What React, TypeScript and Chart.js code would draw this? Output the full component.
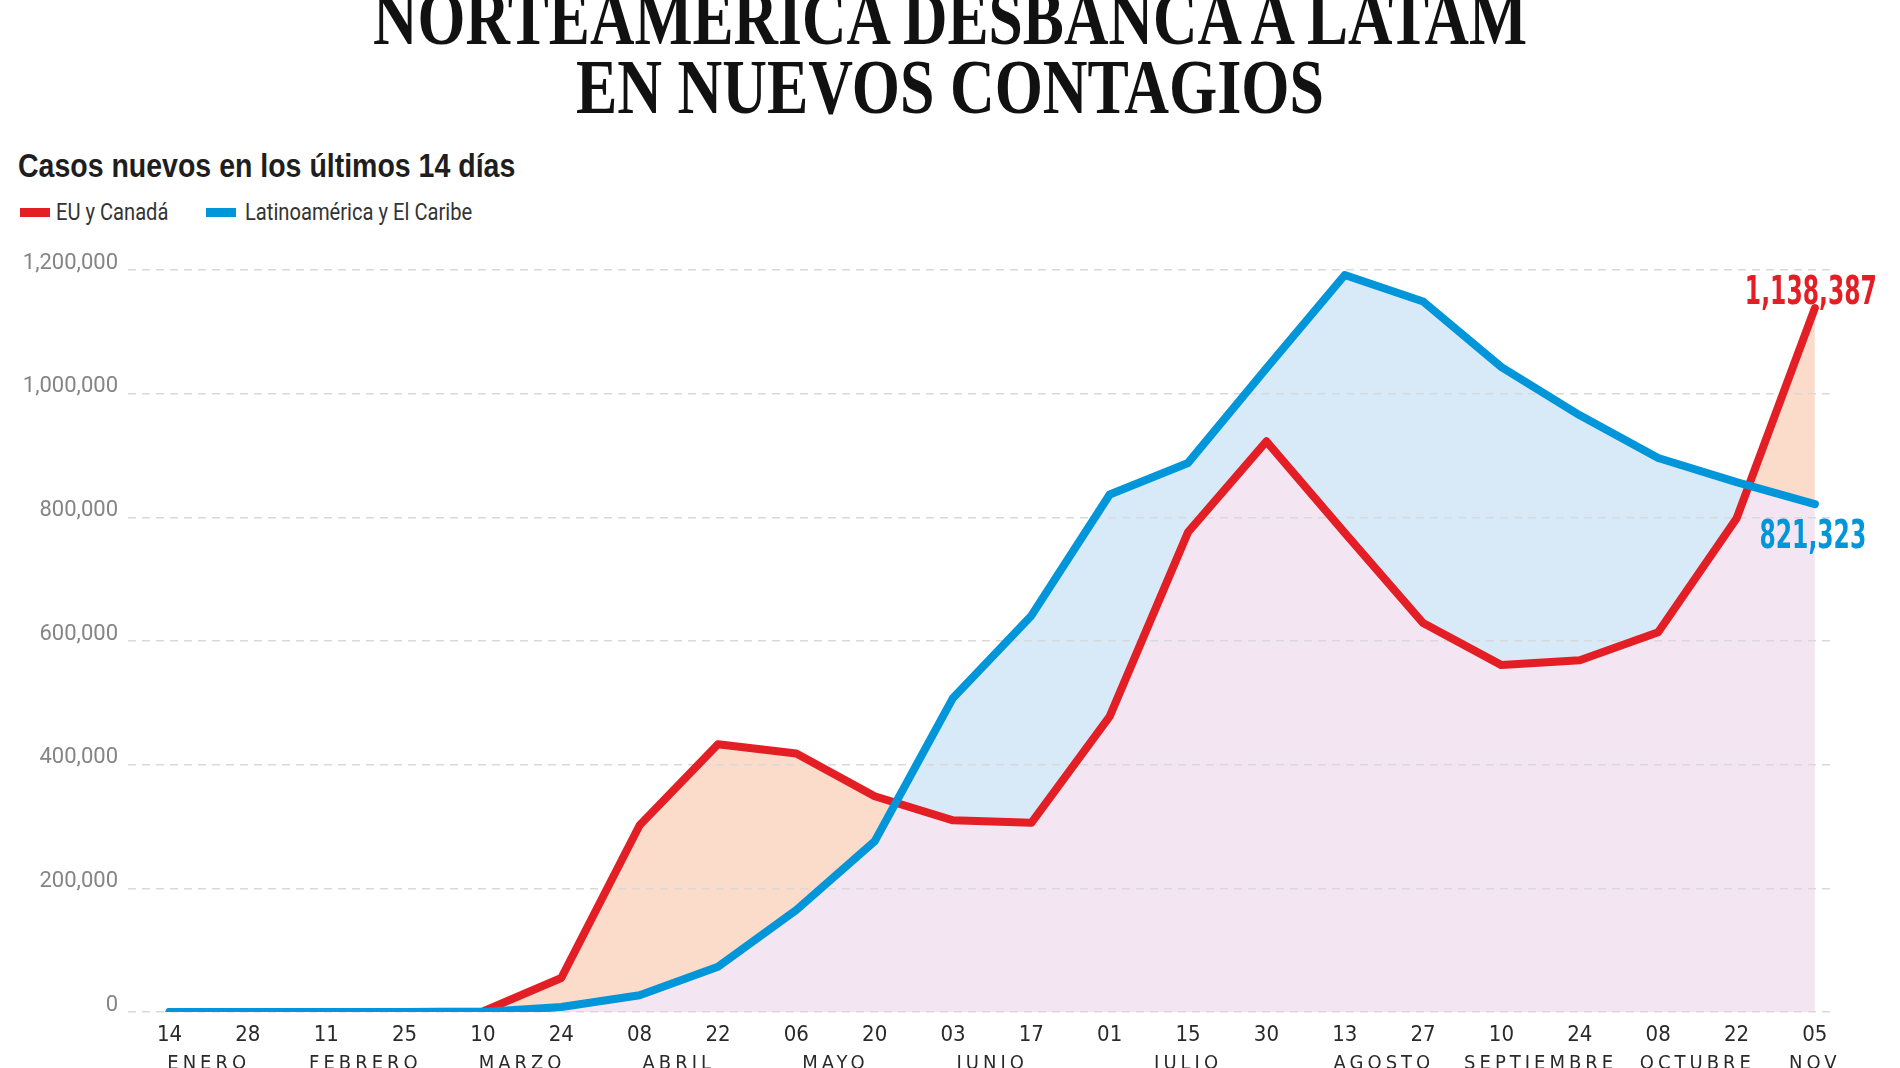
import React, { useEffect, useLayoutEffect, useRef, useState } from 'react';
import { Chart, registerables } from 'chart.js';

Chart.register(...registerables);

// ---------- data ----------
const titleLines = ['NORTEAMÉRICA DESBANCA A LATAM', 'EN NUEVOS CONTAGIOS'];
const subtitle = 'Casos nuevos en los últimos 14 días';
const seriesNames = ['EU y Canadá', 'Latinoamérica y El Caribe'];

const dateLabels = ['14', '28', '11', '25', '10', '24', '08', '22', '06', '20', '03', '17', '01', '15', '30', '13', '27', '10', '24', '08', '22', '05'];
const monthLabels = ['ENERO', 'FEBRERO', 'MARZO', 'ABRIL', 'MAYO', 'JUNIO', 'JULIO', 'AGOSTO', 'SEPTIEMBRE', 'OCTUBRE', 'NOV'];
const monthPositions = [0.5, 2.5, 4.5, 6.5, 8.5, 10.5, 13, 15.5, 17.5, 19.5, 21];

const euCanada = [0, 0, 0, 0, 1000, 55000, 302000, 433000, 418000, 349000, 310000, 306000, 478000, 776000, 923000, 775000, 629000, 561000, 569000, 614000, 798000, 1138387];
const latam = [0, 0, 0, 0, 0, 8000, 27000, 73000, 165000, 276000, 508000, 641000, 837000, 888000, 1041000, 1192000, 1149000, 1043000, 965000, 896000, 857000, 821323];

const yTickValues = [0, 200000, 400000, 600000, 800000, 1000000, 1200000];

// ---------- styles ----------
const RED = '#e31e24';
const BLUE = '#0096d9';
const PEACH = '#fbdccb';
const LIGHTBLUE = '#d8eaf8';
const LAVENDER = '#f3e5f1';
const NARROW = "'Liberation Sans Narrow', 'DejaVu Sans Condensed', 'Roboto Condensed', Roboto, 'Liberation Sans', sans-serif";
const SANS = "Roboto, 'Liberation Sans', sans-serif";

const fmt = (n: number) => n.toLocaleString('en-US');

function FitText({ text, width, origin, style }: { text: string; width: number; origin: string; style?: React.CSSProperties }) {
  const ref = useRef<HTMLSpanElement>(null);
  const [scale, setScale] = useState(1);
  useLayoutEffect(() => {
    const el = ref.current;
    if (!el) return;
    const w = el.offsetWidth;
    if (w > 0) setScale(width / w);
  }, [text, width]);
  return (
    <span
      ref={ref}
      style={{ display: 'inline-block', whiteSpace: 'nowrap', transform: `scaleX(${scale})`, transformOrigin: origin, ...style }}
    >
      {text}
    </span>
  );
}

const valueLabelPlugin = {
  id: 'valueLabels',
  afterDatasetsDraw(chart: any) {
    const ctx = chart.ctx as CanvasRenderingContext2D;
    const last = dateLabels.length - 1;
    const bp = chart.getDatasetMeta(0).data[last];
    const rp = chart.getDatasetMeta(1).data[last];
    if (!bp || !rp) return;
    const redText = fmt(euCanada[last]);
    const blueText = fmt(latam[last]);
    ctx.save();
    ctx.font = `bold 39px ${NARROW}`;
    ctx.textAlign = 'center';
    ctx.textBaseline = 'alphabetic';
    const s = 132 / ctx.measureText(redText).width;
    const draw = (t: string, x: number, y: number, c: string) => {
      ctx.save();
      ctx.translate(x, y);
      ctx.scale(s, 1);
      ctx.fillStyle = c;
      ctx.fillText(t, 0, 0);
      ctx.restore();
    };
    draw(redText, rp.x - 4, rp.y - 4, RED);
    draw(blueText, bp.x - 2, bp.y + 44, BLUE);
    ctx.restore();
  },
};

const monthSpacingPlugin = {
  id: 'monthSpacing',
  beforeDraw(chart: any) {
    const s: any = chart.scales.months;
    if (!s || s.__spaced) return;
    const orig = s.drawLabels.bind(s);
    s.drawLabels = (area: any) => {
      const ctx: any = chart.ctx;
      const prev = ctx.letterSpacing;
      ctx.letterSpacing = '4px';
      orig(area);
      ctx.letterSpacing = prev || '0px';
    };
    s.__spaced = true;
  },
};

const X_MIN = -0.53;
const X_MAX = 21.27;

export default function App() {
  const canvasRef = useRef<HTMLCanvasElement>(null);

  useEffect(() => {
    const canvas = canvasRef.current;
    if (!canvas) return;
    const chart = new Chart(canvas, {
      type: 'line',
      data: {
        datasets: [
          {
            label: seriesNames[1],
            data: latam.map((v, i) => ({ x: i, y: v })),
            borderColor: BLUE,
            borderWidth: 8,
            borderCapStyle: 'round',
            borderJoinStyle: 'round',
            pointRadius: 0,
            tension: 0,
            fill: { target: 1, above: LIGHTBLUE, below: PEACH },
          },
          {
            label: seriesNames[0],
            data: euCanada.map((v, i) => ({ x: i, y: v })),
            borderColor: RED,
            borderWidth: 8,
            borderCapStyle: 'round',
            borderJoinStyle: 'round',
            pointRadius: 0,
            tension: 0,
            backgroundColor: LAVENDER,
            fill: 'origin',
          },
        ],
      },
      options: {
        responsive: false,
        animation: false,
        devicePixelRatio: 1,
        layout: { padding: { top: 30, right: 64, left: 0, bottom: 0 } },
        plugins: {
          legend: { display: false },
          tooltip: { enabled: false },
          filler: { propagate: false, drawTime: 'beforeDraw' },
        },
        scales: {
          x: {
            type: 'linear',
            position: 'bottom',
            weight: 0,
            min: X_MIN,
            max: X_MAX,
            grid: { display: false, drawTicks: false },
            border: { display: false },
            afterBuildTicks: (s: any) => {
              s.ticks = dateLabels.map((_, i) => ({ value: i }));
            },
            afterFit: (s: any) => {
              s.height = 36;
            },
            ticks: {
              autoSkip: false,
              maxRotation: 0,
              padding: 10,
              color: '#2a2a2a',
              font: { family: NARROW, size: 22 },
              callback: (_v: any, i: number) => dateLabels[i],
            },
          },
          months: {
            type: 'linear',
            position: 'bottom',
            weight: 1,
            min: X_MIN,
            max: X_MAX,
            grid: { display: false, drawTicks: false },
            border: { display: false },
            afterBuildTicks: (s: any) => {
              s.ticks = monthPositions.map((v) => ({ value: v }));
            },
            afterFit: (s: any) => {
              s.height = 40;
            },
            ticks: {
              autoSkip: false,
              maxRotation: 0,
              padding: 4,
              color: '#2a2a2a',
              font: { family: NARROW, size: 20 },
              callback: (_v: any, i: number) => monthLabels[i],
            },
          },
          y: {
            min: 0,
            max: 1200000,
            position: 'left',
            grid: { color: '#d9d9d9', lineWidth: 1.5, drawTicks: false },
            border: { display: false, dash: [8, 6] },
            afterBuildTicks: (s: any) => {
              s.ticks = yTickValues.map((v) => ({ value: v }));
            },
            afterFit: (s: any) => {
              s.width = 128;
            },
            ticks: {
              padding: 10,
              labelOffset: -7,
              color: '#858585',
              font: { family: SANS, size: 22 },
              callback: (v: any) => fmt(Number(v)),
            },
          },
        },
      } as any,
      plugins: [valueLabelPlugin, monthSpacingPlugin],
    });
    return () => chart.destroy();
  }, []);

  return (
    <div style={{ position: 'fixed', left: 0, top: 0, width: 1900, height: 1068, overflow: 'hidden', background: '#fff' }}>
      <div
        style={{
          position: 'absolute',
          top: -17,
          left: 0,
          width: 1900,
          textAlign: 'center',
          fontFamily: "'Liberation Serif', 'DejaVu Serif', serif",
          fontWeight: 700,
          fontSize: 79,
          lineHeight: '69px',
          color: '#111',
        }}
      >
        <div><FitText text={titleLines[0]} width={1154} origin="center center" /></div>
        <div><FitText text={titleLines[1]} width={748} origin="center center" /></div>
      </div>

      <div
        style={{
          position: 'absolute',
          top: 148,
          left: 18,
          fontFamily: "'Liberation Sans', Arial, sans-serif",
          fontWeight: 700,
          fontSize: 34,
          lineHeight: '34px',
          color: '#1e1e1e',
        }}
      >
        <FitText text={subtitle} width={497} origin="left center" />
      </div>

      <div style={{ position: 'absolute', left: 20, top: 208, width: 30, height: 9, background: RED }} />
      <div
        style={{ position: 'absolute', left: 56, top: 201, fontFamily: SANS, fontSize: 23, lineHeight: '23px', color: '#333' }}
      >
        <FitText text={seriesNames[0]} width={112} origin="left center" />
      </div>
      <div style={{ position: 'absolute', left: 206, top: 208, width: 30, height: 9, background: BLUE }} />
      <div
        style={{ position: 'absolute', left: 245, top: 201, fontFamily: SANS, fontSize: 23, lineHeight: '23px', color: '#333' }}
      >
        <FitText text={seriesNames[1]} width={227} origin="left center" />
      </div>

      <canvas
        ref={canvasRef}
        width={1900}
        height={848}
        style={{ position: 'absolute', left: 0, top: 240, width: 1900, height: 848, display: 'block' }}
      />
    </div>
  );
}
